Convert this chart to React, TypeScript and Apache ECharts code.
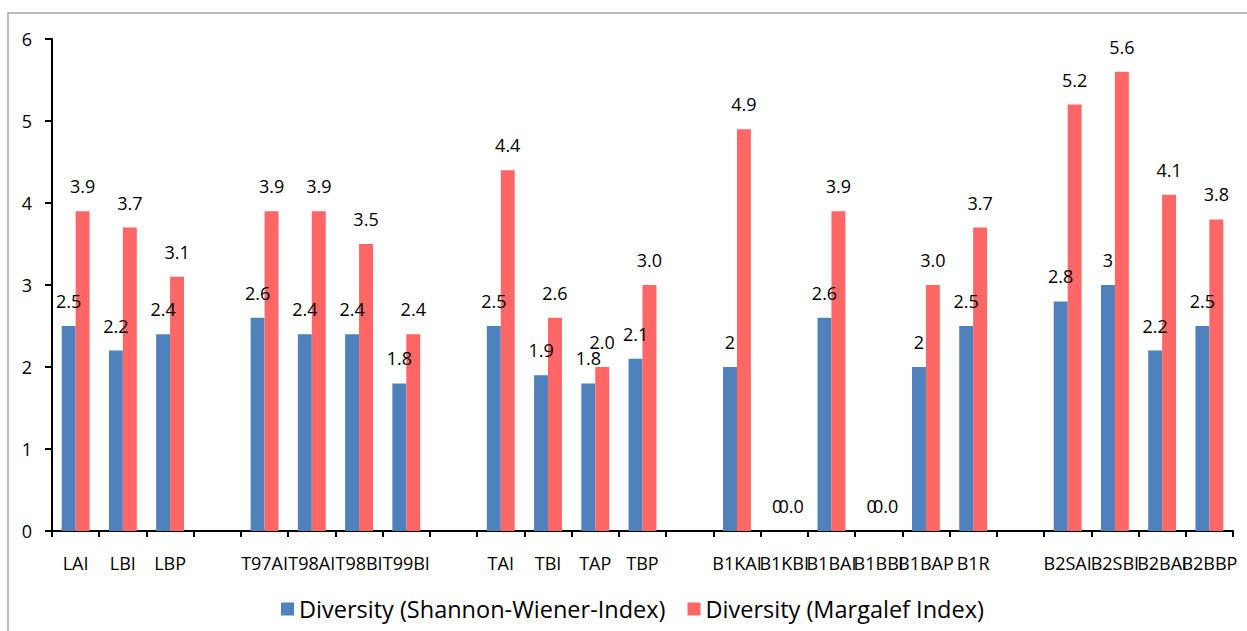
import React, { useEffect, useRef } from "react";
import * as echarts from "echarts";

const categories = [
  "LAI", "LBI", "LBP", "",
  "T97AI", "T98AI", "T98BI", "T99BI", "",
  "TAI", "TBI", "TAP", "TBP", "",
  "B1KAI", "B1KBI", "B1BAI", "B1BBI", "B1BAP", "B1R", "",
  "B2SAI", "B2SBI", "B2BAI", "B2BBP",
];
const shannon = [
  2.5, 2.2, 2.4, null,
  2.6, 2.4, 2.4, 1.8, null,
  2.5, 1.9, 1.8, 2.1, null,
  2, 0, 2.6, 0, 2, 2.5, null,
  2.8, 3, 2.2, 2.5,
];
const margalef = [
  3.9, 3.7, 3.1, null,
  3.9, 3.9, 3.5, 2.4, null,
  4.4, 2.6, 2.0, 3.0, null,
  4.9, 0.0, 3.9, 0.0, 3.0, 3.7, null,
  5.2, 5.6, 4.1, 3.8,
];
const seriesNames = ["Diversity (Shannon-Wiener-Index)", "Diversity (Margalef Index)"];
const yTicks = { min: 0, max: 6, interval: 1 };

const FONT = "Open Sans";

export default function App() {
  const ref = useRef<HTMLDivElement>(null);
  useEffect(() => {
    if (!ref.current) return;
    const chart = echarts.init(ref.current, null, { renderer: "svg" });
    const labelStyle = {
      show: true,
      position: "top",
      distance: 16,
      color: "#000",
      fontFamily: FONT,
      fontSize: 18,
    };
    chart.setOption({
      animation: false,
      backgroundColor: "#fff",
      textStyle: { fontFamily: FONT },
      graphic: [
        {
          type: "rect",
          silent: true,
          z: -10,
          shape: { x: 8, y: 13, width: 1400, height: 800 },
          style: { fill: "none", stroke: "#a6a6a6", lineWidth: 1.5 },
        },
      ],
      grid: { left: 52, right: 14, top: 39, bottom: 100, containLabel: false },
      legend: {
        left: 276,
        top: 592,
        itemWidth: 13,
        itemHeight: 13,
        itemGap: 22,
        icon: "rect",
        textStyle: { fontFamily: FONT, fontSize: 23.5, color: "#000" },
        data: seriesNames,
      },
      xAxis: {
        type: "category",
        data: categories,
        axisLine: { lineStyle: { color: "#000", width: 2 } },
        axisTick: { show: true, length: 6, lineStyle: { color: "#000", width: 2 } },
        axisLabel: {
          interval: 0,
          margin: 23,
          color: "#000",
          fontFamily: FONT,
          fontSize: 18,
        },
        splitLine: { show: false },
      },
      yAxis: {
        type: "value",
        min: yTicks.min,
        max: yTicks.max,
        interval: yTicks.interval,
        axisLine: { show: true, lineStyle: { color: "#000", width: 2 } },
        axisTick: { show: true, length: 7, lineStyle: { color: "#000", width: 2 } },
        axisLabel: {
          margin: 20,
          color: "#000",
          fontFamily: FONT,
          fontSize: 18,
          padding: [7, 0, 0, 0],
        },
        splitLine: { show: false },
      },
      series: [
        {
          name: seriesNames[0],
          type: "bar",
          data: shannon.map((v) => (v === null ? "-" : v)),
          itemStyle: { color: "#4F81BD" },
          barGap: "0%",
          barCategoryGap: "41%",
          label: { ...labelStyle, formatter: (p: any) => String(p.value) },
        },
        {
          name: seriesNames[1],
          type: "bar",
          data: margalef.map((v) => (v === null ? "-" : v)),
          itemStyle: { color: "#FF6666" },
          barGap: "0%",
          barCategoryGap: "41%",
          label: { ...labelStyle, formatter: (p: any) => Number(p.value).toFixed(1) },
        },
      ],
    });
    return () => chart.dispose();
  }, []);
  return (
    <div
      ref={ref}
      style={{ position: "fixed", left: 0, top: 0, width: 1247, height: 631 }}
    />
  );
}
